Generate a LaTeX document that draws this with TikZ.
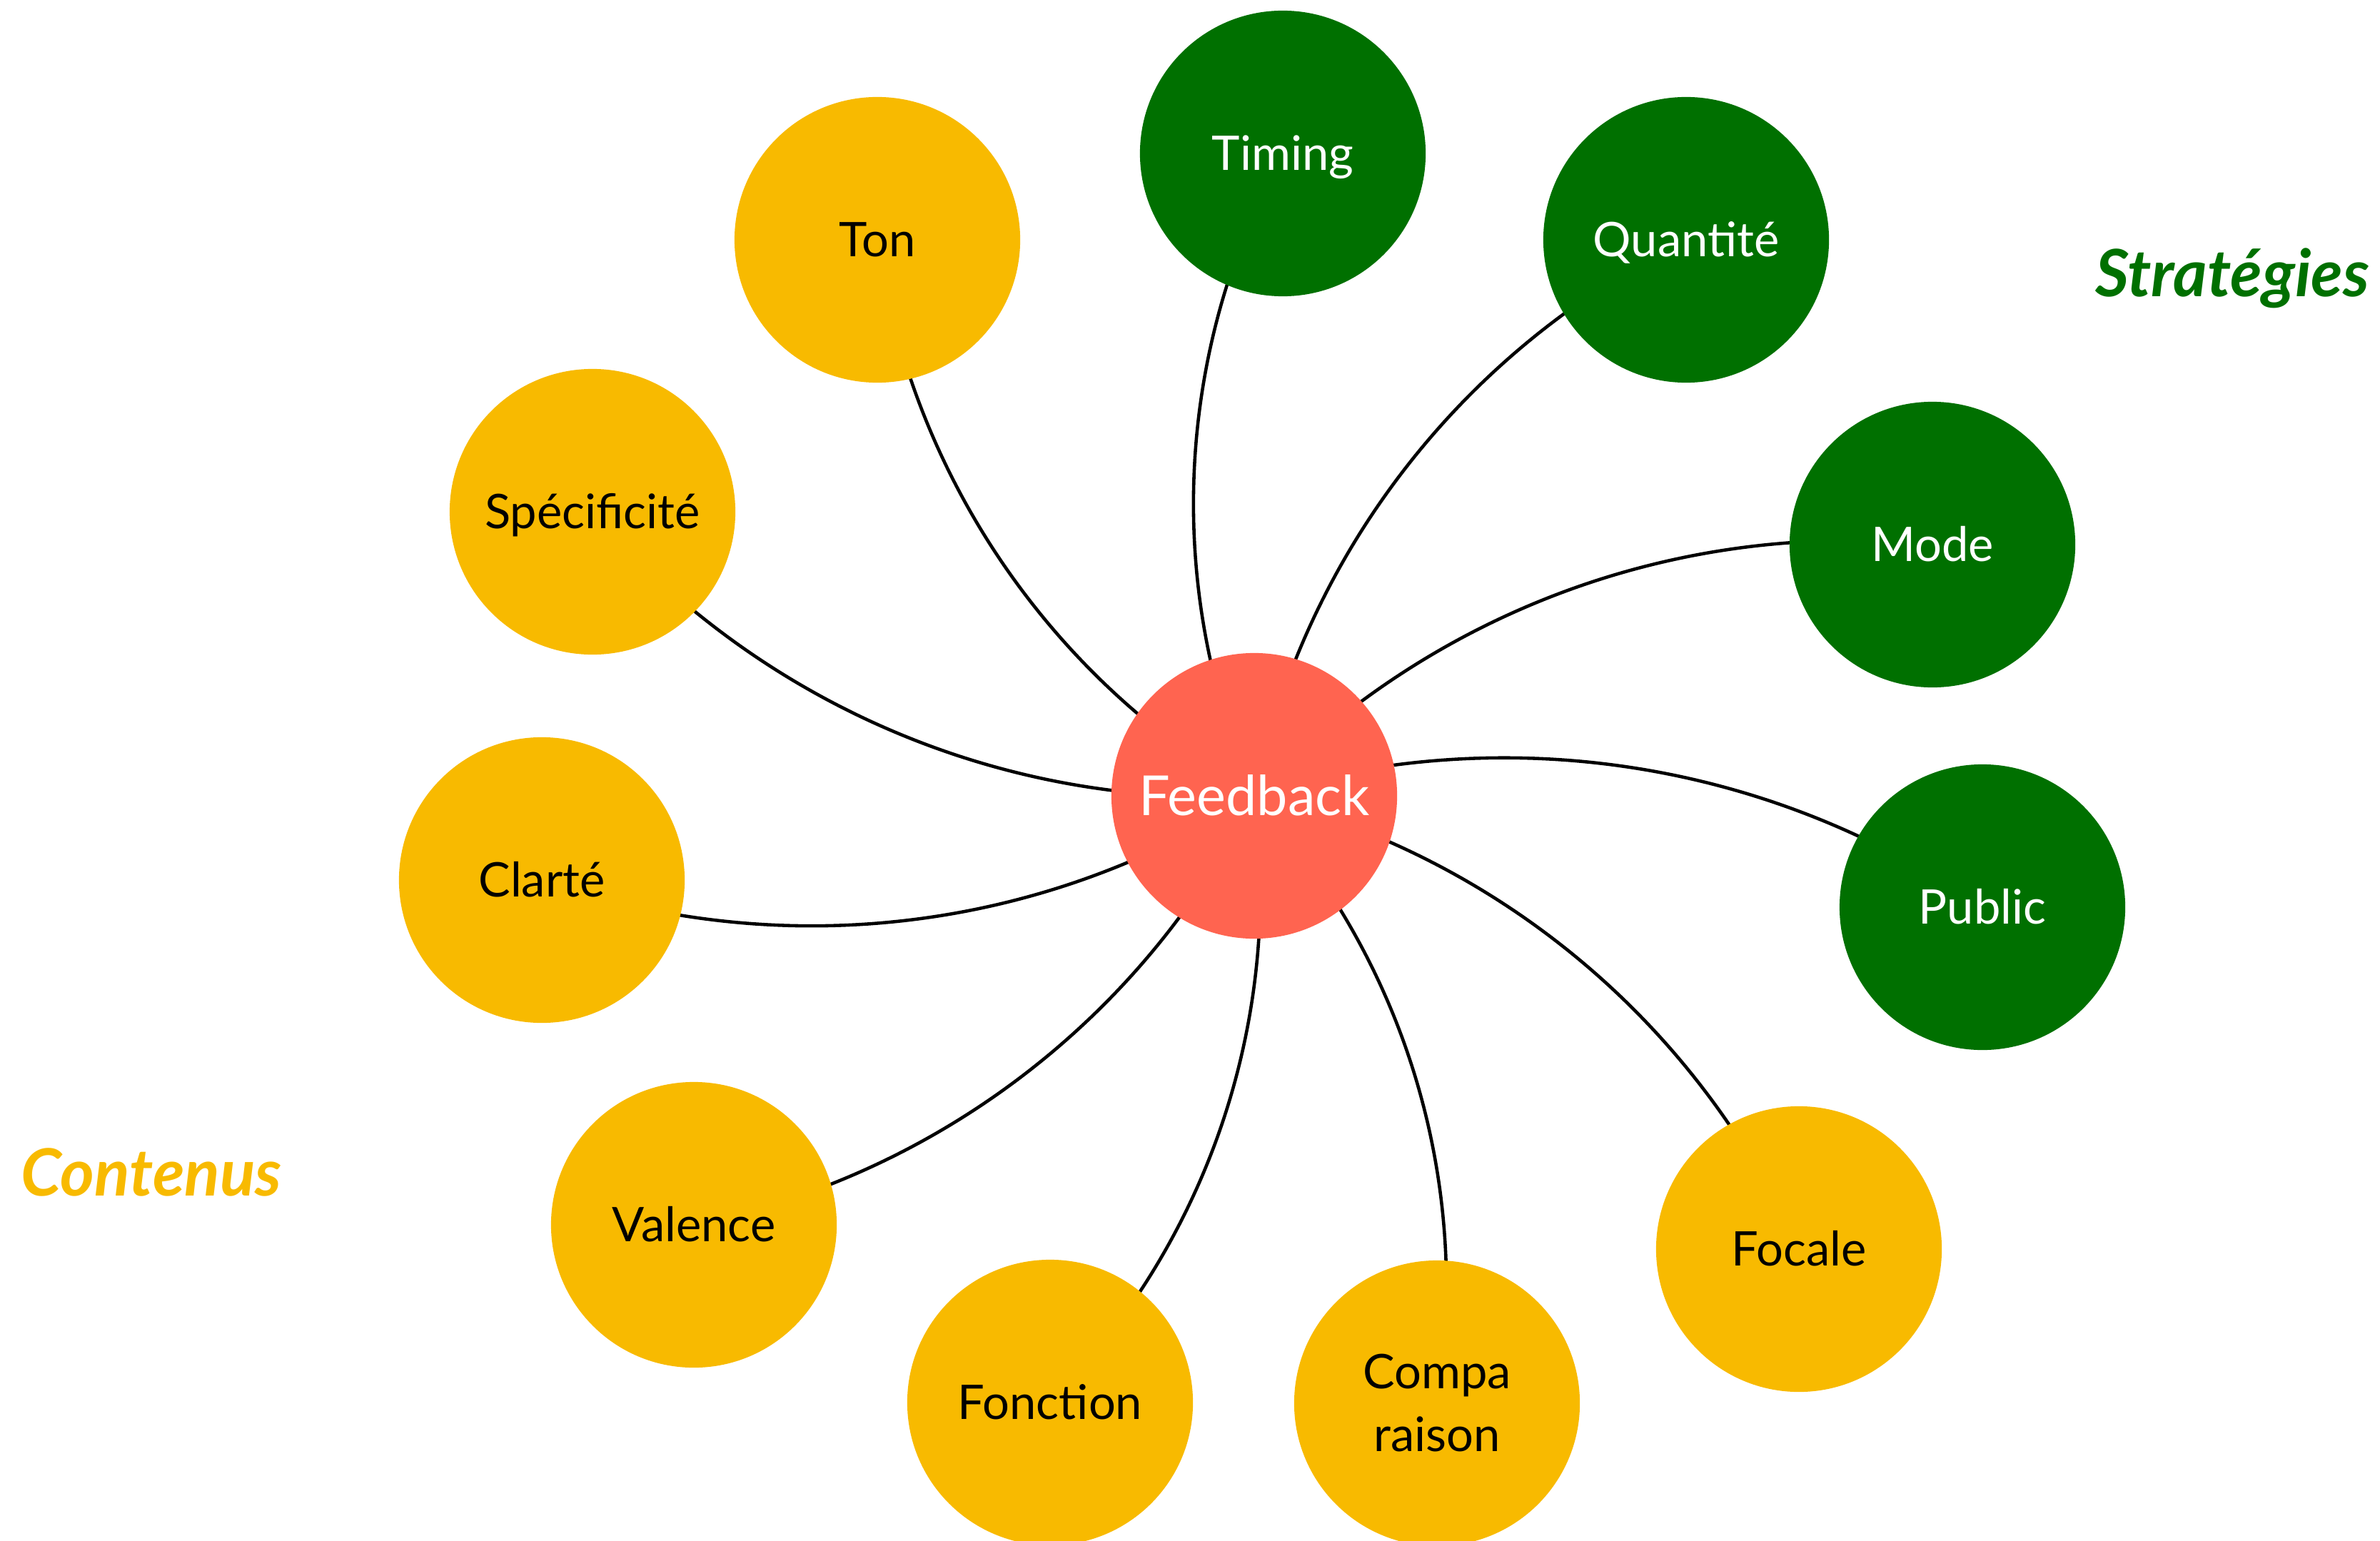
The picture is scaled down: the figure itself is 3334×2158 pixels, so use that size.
\documentclass[tikz,border=0pt]{standalone}
\usepackage{fontspec}
\setmainfont{Lato}
\usetikzlibrary{backgrounds}
\definecolor{amber}{RGB}{248,186,0}
\definecolor{leaf}{RGB}{0,112,0}
\definecolor{coral}{RGB}{255,100,80}
\begin{document}
\begin{tikzpicture}[x=0.01cm,y=-0.01cm,
  bubble/.style={circle,minimum size=4cm,inner sep=0pt,align=center,
    font=\fontsize{19}{25}\selectfont,text height=13.6pt,text depth=0pt},
  content/.style={bubble,fill=amber,text=black},
  strategy/.style={bubble,fill=leaf,text=white},
  hub/.style={bubble,fill=coral,text=white,font=\fontsize{22}{26}\selectfont,
    text height=15.8pt},
  twoline/.style={text height=38.6pt},
  link/.style={line width=1.3pt,black,bend left=26,looseness=0.9},
  group/.style={anchor=base,font=\fontsize{26}{30}\selectfont\bfseries\itshape}]
\useasboundingbox (0,0) rectangle (3334,2158);

% centre
\node[hub] (fb) at (1757,1115) {Feedback};

% strategies
\node[strategy] (timing) at (1797,215) {Timing};
\node[strategy] (quant)  at (2362,336) {Quantité};
\node[strategy] (mode)   at (2707,763) {Mode};
\node[strategy] (public) at (2777,1271) {Public};

% contents
\node[content] (ton)    at (1229,336)  {Ton};
\node[content] (spec)   at (830,717)   {Spécificité};
\node[content] (clarte) at (759,1233)  {Clarté};
\node[content] (val)    at (972,1716)  {Valence};
\node[content] (fonc)   at (1471,1965) {Fonction};
\node[content,twoline] (comp) at (2013,1966) {Compa\\raison};
\node[content] (foc)    at (2520,1750) {Focale};

% group labels
\node[group,text=leaf]  (lstrat) at (3127,416)  {Stratégies};
\node[group,text=amber] (lcont)  at (212,1675)  {Contenus};

% connectors, centre to centre, hidden under the discs
\begin{scope}[on background layer]
  \foreach \n in {timing,quant,mode,public,ton,spec,clarte,val,fonc,comp,foc}
    \draw[link] (fb.center) to (\n.center);
\end{scope}
\end{tikzpicture}
\end{document}
